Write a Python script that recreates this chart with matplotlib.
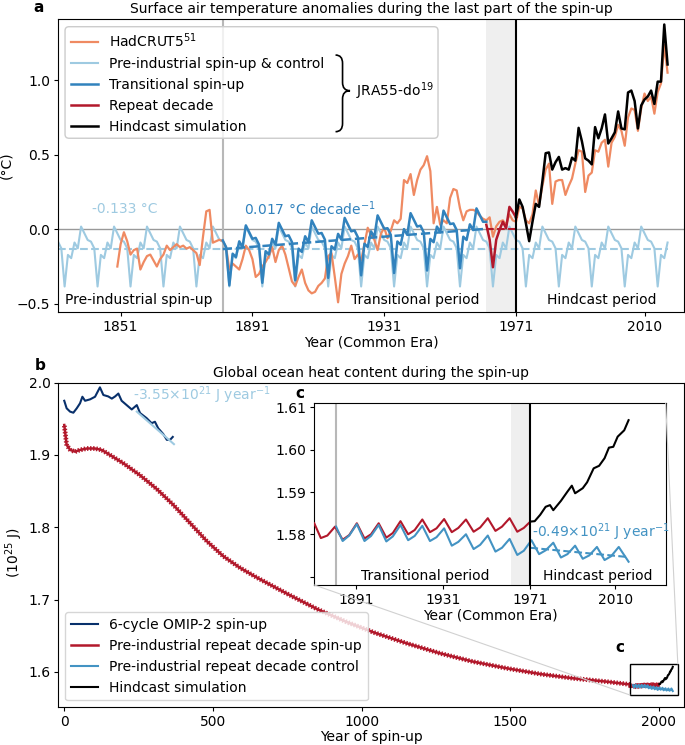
import matplotlib
matplotlib.use('Agg')
import matplotlib.pyplot as plt
import matplotlib.patheffects as pe
import numpy as np
from matplotlib.patches import FancyBboxPatch, Rectangle, ConnectionPatch, PathPatch
from matplotlib.path import Path

plt.rcParams['font.family'] = ['DejaVu Sans']
plt.rcParams['font.size'] = 10
plt.rcParams['axes.titlesize'] = 10
plt.rcParams['xtick.major.size'] = 3
plt.rcParams['ytick.major.size'] = 3
plt.rcParams['xtick.major.pad'] = 2.5
plt.rcParams['ytick.major.pad'] = 2.5

C_HAD = '#ef8a62'
C_CTRL = '#9ecae1'
C_TRANS = '#3182bd'
C_REP = '#b2182b'
C_NAVY = '#08306b'
C_CTRL_B = '#4393c3'

# ---------------- panel a : surface air temperature ----------------
# pre-industrial control repeats one decade; values for years ending 0..9
control_decade = [-0.027, -0.072, -0.083, -0.128, -0.384, -0.172, -0.194, -0.089, -0.128, 0.018]
control_start = 1832
control_end = 2017
control_mean = -0.133

# transitional spin-up: same decade, shifted up block by block (blocks of 10 years from 1882)
transitional_start = 1882
transitional_end = 1962
transitional_shift = [0.008, 0.025, 0.042, 0.058, 0.075, 0.090, 0.107, 0.122, 0.133]
transitional_trend_years = [1882, 1962]
transitional_trend_vals = [-0.133, 0.003]

repeat_start = 1962
repeat_vals = [0.03, -0.07, -0.255, -0.07, -0.005, 0.05, 0.007, 0.15, 0.118, 0.08]

hindcast_start = 1971
hindcast_vals = [0.08, 0.20, 0.15, 0.04, -0.08, 0.05, 0.17, 0.15, 0.32, 0.51,
                 0.515, 0.40, 0.45, 0.485, 0.40, 0.41, 0.40, 0.48, 0.46, 0.68,
                 0.59, 0.475, 0.46, 0.435, 0.685, 0.61, 0.676, 0.77, 0.575, 0.61,
                 0.65, 0.79, 0.676, 0.67, 0.917, 0.93, 0.86, 0.676, 0.83, 0.87,
                 0.89, 0.93, 0.84, 0.99, 0.99, 1.373, 1.105]

hadcrut_start = 1850
hadcrut_vals = [-0.25, -0.10, -0.02, -0.08, -0.17, -0.14, -0.13, -0.27, -0.22, -0.18,
                -0.17, -0.21, -0.25, -0.20, -0.17, -0.11, -0.14, -0.12, -0.10, -0.12,
                -0.11, -0.13, -0.12, -0.14, -0.16, -0.24, -0.05, 0.12, 0.13, -0.09,
                -0.08, -0.07, -0.08, -0.12, -0.27, -0.23, -0.25, -0.27, -0.20, -0.11,
                -0.14, -0.20, -0.32, -0.30, -0.25, -0.22, -0.18, -0.12, -0.22, -0.14,
                -0.11, -0.17, -0.26, -0.35, -0.38, -0.32, -0.27, -0.36, -0.41, -0.43,
                -0.42, -0.38, -0.36, -0.33, -0.18, -0.16, -0.32, -0.49, -0.30, -0.23,
                -0.18, -0.11, -0.20, -0.17, -0.21, -0.10, 0.01, -0.04, -0.07, -0.14,
                -0.03, 0.01, -0.06, -0.01, 0.06, 0.04, 0.07, 0.33, 0.31, 0.37,
                0.23, 0.33, 0.40, 0.43, 0.49, 0.39, 0.04, 0.15, 0.03, 0.06,
                0.04, 0.21, 0.27, 0.26, 0.14, 0.06, 0.12, 0.13, 0.13, 0.12,
                0.09, 0.07, 0.06, 0.08, -0.05, 0.02, 0.05, 0.06, 0.03, 0.10,
                0.06, 0.05, 0.15, 0.14, 0.06, 0.04, 0.10, 0.26, 0.16, 0.29,
                0.40, 0.44, 0.17, 0.32, 0.33, 0.33, 0.23, 0.29, 0.34, 0.44,
                0.53, 0.52, 0.25, 0.36, 0.38, 0.53, 0.52, 0.58, 0.60, 0.42,
                0.58, 0.62, 0.70, 0.66, 0.56, 0.75, 0.81, 0.80, 0.66, 0.81,
                0.91, 0.86, 0.89, 0.775, 0.92, 0.977, 1.235, 1.05]

a_xticks = [1851, 1891, 1931, 1971, 2010]
a_yticks = [-0.5, 0.0, 0.5, 1.0]

# ---------------- panel b : ocean heat content (10^25 J) ----------------
omip_spin = [0, 8, 19.5, 30.6, 42, 53, 61, 70, 87, 103.6, 120, 131.5, 148, 160, 171,
             182, 193, 210, 227, 244, 255, 277, 294, 305, 316, 333, 345, 356, 365]
omip_vals = [1.975, 1.9646, 1.960, 1.9585, 1.9646, 1.9715, 1.9806, 1.975, 1.977, 1.9806,
             1.9936, 1.983, 1.981, 1.978, 1.981, 1.985, 1.975, 1.969, 1.963, 1.969,
             1.958, 1.951, 1.944, 1.946, 1.937, 1.929, 1.921, 1.921, 1.925]
omip_trend_spin = [244, 369]
omip_trend_vals = [1.960, 1.915]

spinup_spin = [0, 8, 20, 36, 53, 76, 103, 126, 154, 199, 255, 311, 367, 423, 479,
               535, 591, 650, 750, 850, 950, 1045, 1152, 1264, 1376, 1488, 1600,
               1712, 1824]
spinup_vals = [1.9415, 1.914, 1.907, 1.9046, 1.907, 1.909, 1.909, 1.907, 1.900, 1.8885,
               1.872, 1.853, 1.831, 1.806, 1.781, 1.760, 1.744, 1.730, 1.708, 1.687,
               1.669, 1.654, 1.6395, 1.6257, 1.6141, 1.605, 1.5971, 1.5911, 1.5865]

# last part of the spin-up, in calendar years (inset c)
spin_offset = 31  # spin-up year = calendar year + offset
rep_years = [1872, 1875, 1878, 1881.5, 1885, 1888, 1891.5, 1895, 1898, 1901.5, 1905,
             1908, 1911.5, 1915, 1918, 1921.5, 1925, 1928, 1931.5, 1935, 1938, 1941.5,
             1945, 1948, 1951.5, 1955, 1958, 1961.5, 1965, 1968, 1971]
rep_ohc = [1.5826, 1.5791, 1.5797, 1.5818, 1.5787, 1.5798, 1.5826, 1.5790, 1.5800, 1.5826,
           1.5792, 1.5803, 1.5831, 1.5800, 1.5810, 1.5835, 1.5805, 1.5814, 1.5836, 1.5805,
           1.5815, 1.5835, 1.5806, 1.5816, 1.5838, 1.5808, 1.5818, 1.5838, 1.5806, 1.5815,
           1.5830]
ctl_years = [1882, 1885, 1888, 1891.5, 1895, 1898, 1901.5, 1905, 1908, 1911.5, 1915,
             1918, 1921.5, 1925, 1928, 1931.5, 1935, 1938, 1941.5, 1945, 1948, 1951.5,
             1955, 1958, 1961.5, 1965, 1968, 1971.5, 1975, 1978, 1981.5, 1985, 1988,
             1991.5, 1995, 1998, 2001.5, 2005, 2008, 2011.5, 2016]
ctl_ohc = [1.5818, 1.5784, 1.5797, 1.5824, 1.5784, 1.5796, 1.5822, 1.5783, 1.5795, 1.5822,
           1.5786, 1.5796, 1.5820, 1.5784, 1.5793, 1.5814, 1.5773, 1.5782, 1.5800, 1.5765,
           1.5775, 1.5797, 1.5759, 1.5768, 1.5789, 1.5751, 1.5761, 1.5786, 1.5753, 1.5762,
           1.5780, 1.5745, 1.5753, 1.5773, 1.5742, 1.5750, 1.5770, 1.5739, 1.5748, 1.5770,
           1.5735]
hc_years = [1971, 1973, 1975.5, 1978, 1980, 1981.5, 1985, 1988, 1990, 1991.5, 1995, 1997,
            2000, 2002.5, 2005, 2007, 2009, 2011, 2014, 2016]
hc_ohc = [1.5830, 1.5831, 1.5846, 1.5865, 1.5869, 1.5857, 1.5879, 1.5901, 1.5915, 1.5897,
          1.5909, 1.5923, 1.5956, 1.5962, 1.5980, 1.6005, 1.6007, 1.6031, 1.6046, 1.6070]
ctl_trend_years = [1971, 2016]
ctl_trend_vals = [1.5768, 1.5746]

c_xlim = (1872, 2033)
c_ylim = (1.568, 1.611)
c_xticks = [1891, 1931, 1971, 2010]
c_yticks = [1.57, 1.58, 1.59, 1.60, 1.61]


def draw_brace(ax, x_tip, x_mid, x_point, y_top, y_bot, y_mid, e):
    verts = [(x_tip, y_top), (x_mid, y_top), (x_mid, y_top - e),
             (x_mid, y_mid + e),
             (x_mid, y_mid), (x_point, y_mid),
             (x_mid, y_mid), (x_mid, y_mid - e),
             (x_mid, y_bot + e),
             (x_mid, y_bot), (x_tip, y_bot)]
    codes = [Path.MOVETO, Path.CURVE3, Path.CURVE3, Path.LINETO,
             Path.CURVE3, Path.CURVE3, Path.CURVE3, Path.CURVE3,
             Path.LINETO, Path.CURVE3, Path.CURVE3]
    ax.add_patch(PathPatch(Path(verts, codes), fc='none', ec='k', lw=1.2,
                           transform=ax.transAxes, zorder=6))


fig = plt.figure(figsize=(6.85, 7.45), dpi=100)
ax1 = fig.add_axes([0.0847, 0.5812, 0.9139, 0.3933])
ax2 = fig.add_axes([0.0847, 0.0506, 0.9139, 0.4357])
axin = fig.add_axes([0.4588, 0.2148, 0.513, 0.2439])

# ---- panel a ----
ctrl_years = np.arange(control_start, control_end + 1)
ctrl_vals = [control_decade[y % 10] for y in ctrl_years]
tr_years = np.arange(transitional_start, transitional_end + 1)
tr_vals = [control_decade[y % 10] + transitional_shift[(y - transitional_start) // 10] for y in tr_years]
rep_years_a = np.arange(repeat_start, repeat_start + len(repeat_vals))
hind_years = np.arange(hindcast_start, hindcast_start + len(hindcast_vals))
had_years = np.arange(hadcrut_start, hadcrut_start + len(hadcrut_vals))

ax1.axvspan(repeat_start, hindcast_start, color='#efefef', lw=0, zorder=0)
ax1.axhline(0, color='0.6', lw=1, zorder=1)
ax1.axvline(transitional_start, color='0.72', lw=1.5, zorder=1)
ax1.axvline(hindcast_start, color='k', lw=1.5, zorder=6)

h_ctrl, = ax1.plot(ctrl_years, ctrl_vals, color=C_CTRL, lw=1.5, zorder=2)
ax1.plot([control_start, control_end], [control_mean, control_mean], '--', color=C_CTRL, lw=1.5, zorder=2)
h_had, = ax1.plot(had_years, hadcrut_vals, color=C_HAD, lw=1.6, zorder=3)
h_tr, = ax1.plot(tr_years, tr_vals, color=C_TRANS, lw=1.8, zorder=4)
ax1.plot(transitional_trend_years, transitional_trend_vals, '--', color=C_TRANS, lw=1.8, zorder=4)
h_rep, = ax1.plot(rep_years_a, repeat_vals, color=C_REP, lw=1.8, zorder=4)
ax1.plot([repeat_start, hindcast_start], [0, 0], '--', color=C_REP, lw=1.5, zorder=4)
h_hind, = ax1.plot(hind_years, hindcast_vals, color='k', lw=1.8, zorder=5)

ax1.set_xlim(1832, 2022)
ax1.set_ylim(-0.555, 1.41)
ax1.set_xticks(a_xticks)
ax1.set_yticks(a_yticks)
ax1.set_xlabel('Year (Common Era)', labelpad=1)
ax1.set_ylabel('(°C)')
ax1.yaxis.set_label_coords(-0.071, 0.5)
ax1.set_title('Surface air temperature anomalies during the last part of the spin-up', pad=4)

ax1.text(1842.3, 0.134, '-0.133 °C', color=C_CTRL, ha='left', va='center')
ax1.text(1888.3, 0.136, '0.017 °C decade$^{-1}$', color=C_TRANS, ha='left', va='center')
ax1.text(1834.2, -0.474, 'Pre-industrial spin-up', ha='left', va='center')
ax1.text(1960, -0.474, 'Transitional period', ha='right', va='center')
ax1.text(1997, -0.474, 'Hindcast period', ha='center', va='center')

ax1.legend([h_had, h_ctrl, h_tr, h_rep, h_hind],
           ['HadCRUT5$^{51}$', 'Pre-industrial spin-up & control', 'Transitional spin-up',
            'Repeat decade', 'Hindcast simulation'],
           loc='upper left', frameon=False)
ax1.add_patch(FancyBboxPatch((0.0112, 0.593), 0.5958, 0.3807,
                             boxstyle='round,pad=0,rounding_size=0.0064', mutation_aspect=2.137,
                             transform=ax1.transAxes, fc=(1, 1, 1, 0.8), ec='0.8', lw=1, zorder=4.9))
draw_brace(ax1, 0.4433, 0.4545, 0.4665, 0.877, 0.6154, 0.7553, 0.028)
ax1.text(0.476, 0.755, 'JRA55-do$^{19}$', transform=ax1.transAxes, ha='left', va='center', zorder=6)

# ---- panel b ----
rep_spin = [y + spin_offset for y in rep_years]
ctl_spin = [y + spin_offset for y in ctl_years]
hc_spin = [y + spin_offset for y in hc_years]

h_omip, = ax2.plot(omip_spin, omip_vals, color=C_NAVY, lw=1.5, zorder=3)
ax2.plot(omip_trend_spin, omip_trend_vals, color=C_CTRL, lw=1.5, zorder=4)
h_spin, = ax2.plot(spinup_spin + rep_spin, spinup_vals + rep_ohc, color=C_REP, lw=1.8, zorder=3,
                   path_effects=[pe.Normal(),
                                 pe.TickedStroke(spacing=2.2, angle=90, length=0.55, linewidth=1.0),
                                 pe.TickedStroke(spacing=2.2, angle=-90, length=0.55, linewidth=1.0)])
h_ctl, = ax2.plot(ctl_spin, ctl_ohc, color=C_CTRL_B, lw=1.5, zorder=3)
h_hc, = ax2.plot(hc_spin, hc_ohc, color='k', lw=1.5, zorder=4)

ax2.set_xlim(-21, 2085)
ax2.set_ylim(1.551, 2.0)
ax2.set_xticks([0, 500, 1000, 1500, 2000])
ax2.set_yticks([1.6, 1.7, 1.8, 1.9, 2.0])
ax2.set_xlabel('Year of spin-up', labelpad=1)
ax2.set_ylabel('(10$^{25}$ J)')
ax2.yaxis.set_label_coords(-0.0527, 0.475)
ax2.set_title('Global ocean heat content during the spin-up', pad=4)
ax2.text(232, 1.983, '-3.55$\\times$10$^{21}$ J year$^{-1}$', color=C_CTRL, ha='left', va='center')

leg_b = ax2.legend([h_omip, h_spin, h_ctl, h_hc],
                   ['6-cycle OMIP-2 spin-up', 'Pre-industrial repeat decade spin-up',
                    'Pre-industrial repeat decade control', 'Hindcast simulation'],
                   loc='lower left')
leg_b.get_lines()[1].set_path_effects([])

# zoom box and connectors
rx0, rx1 = c_xlim[0] + spin_offset, c_xlim[1] + spin_offset
ax2.add_patch(Rectangle((rx0, c_ylim[0]), rx1 - rx0, c_ylim[1] - c_ylim[0],
                        fill=False, ec='k', lw=1, zorder=6))
for xy_a, xy_b in [((rx0, c_ylim[0]), (0, 0)), ((rx1, c_ylim[1]), (1, 1))]:
    con = ConnectionPatch(xyA=xy_a, coordsA=ax2.transData, xyB=xy_b, coordsB=axin.transAxes,
                          color='0.82', lw=0.8)
    fig.add_artist(con)

# ---- inset c ----
axin.axvspan(repeat_start, hindcast_start, color='#efefef', lw=0, zorder=0)
axin.axvline(transitional_start, color='0.72', lw=1.5, zorder=1)
axin.axvline(hindcast_start, color='k', lw=1.5, zorder=5)
axin.plot(rep_years, rep_ohc, color=C_REP, lw=1.5, zorder=3)
axin.plot(ctl_years, ctl_ohc, color=C_CTRL_B, lw=1.5, zorder=3)
axin.plot(hc_years, hc_ohc, color='k', lw=1.5, zorder=4)
axin.plot(ctl_trend_years, ctl_trend_vals, '--', color=C_CTRL_B, lw=1.5, zorder=4)
axin.set_xlim(*c_xlim)
axin.set_ylim(*c_ylim)
axin.set_xticks(c_xticks)
axin.set_yticks(c_yticks)
axin.set_yticklabels([''] + ['%.2f' % v for v in c_yticks[1:]])
axin.set_xlabel('Year (Common Era)', labelpad=1)
axin.text(1922.9, 1.5701, 'Transitional period', ha='center', va='center')
axin.text(2001.8, 1.5701, 'Hindcast period', ha='center', va='center')
axin.text(1971.8, 1.5806, '-0.49$\\times$10$^{21}$ J year$^{-1}$', color=C_CTRL_B,
          ha='left', va='center', zorder=6)

# panel letters
fig.text(33 / 685, 1 - 12 / 745, 'a', fontweight='bold', fontsize=11, va='baseline')
fig.text(35 / 685, 1 - 370 / 745, 'b', fontweight='bold', fontsize=11, va='baseline')
fig.text(299.7 / 685, 1 - 393.3 / 745, 'c', fontweight='bold', fontsize=11, ha='center', va='center')
fig.text(619.5 / 685, 1 - 647.3 / 745, 'c', fontweight='bold', fontsize=11, ha='center', va='center')

fig.savefig('out.png', dpi=100)
